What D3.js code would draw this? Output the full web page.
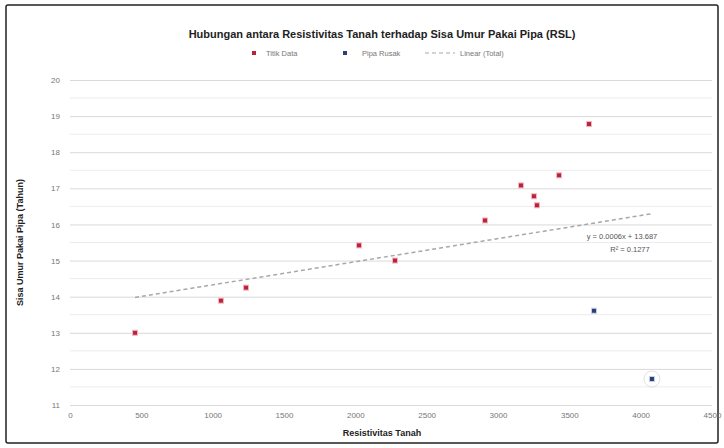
<!DOCTYPE html>
<html>
<head>
<meta charset="utf-8">
<script src="https://cdn.jsdelivr.net/npm/d3@7"></script>
<style>
  html, body { margin: 0; padding: 0; background: #fff; }
  svg { display: block; font-family: "Liberation Sans", Arial, sans-serif; }
</style>
</head>
<body>
<svg id="chart" width="724" height="448"></svg>
<script>
// Soil resistivity vs remaining service life (RSL) of pipes
const resistivityNormal = [456, 1058, 1234, 2026, 2278, 2909, 3161, 3252, 3273, 3428, 3638];
const rslNormal         = [13.0, 13.89, 14.25, 15.42, 15.0, 16.11, 17.08, 16.78, 16.53, 17.36, 18.78];
const resistivityOutlier = [3673, 4079];
const rslOutlier         = [13.61, 11.72];
const xTicks = [0, 500, 1000, 1500, 2000, 2500, 3000, 3500, 4000, 4500];
const yTicks = [11, 12, 13, 14, 15, 16, 17, 18, 19, 20];
const trendSlope = 0.00064;
const trendIntercept = 13.687;
const trendR2 = 0.1277;

const titleText = "Hubungan antara Resistivitas Tanah terhadap Sisa Umur Pakai Pipa (RSL)";
const legendLabels = ["Titik Data", "Pipa Rusak", "Linear (Total)"];

const svg = d3.select("#chart");
const W = 724, H = 448;
const m = { left: 70, right: 12, top: 80, bottom: 43 };

// outer frame
svg.append("rect").attr("x", 6).attr("y", 5).attr("width", W - 12).attr("height", H - 10)
  .attr("fill", "#fff").attr("stroke", "#222").attr("stroke-width", 1.5).attr("rx", 2);

const x = d3.scaleLinear().domain([0, 4500]).range([m.left, W - m.right]);
const y = d3.scaleLinear().domain([11, 20]).range([H - m.bottom, m.top]);

// minor grid
const minor = d3.range(11.5, 20, 1);
svg.append("g").selectAll("line").data(minor).join("line")
  .attr("x1", x(0)).attr("x2", x(4500))
  .attr("y1", d => y(d)).attr("y2", d => y(d))
  .attr("stroke", "#ececec").attr("stroke-width", 1);

// major grid + y axis
const yAxis = d3.axisLeft(y).tickValues(yTicks).tickSize(-(x(4500) - x(0))).tickFormat(d3.format("d"));
const gy = svg.append("g").attr("transform", `translate(${x(0)},0)`).call(yAxis);
gy.select(".domain").remove();
gy.selectAll(".tick line").attr("stroke", "#d9d9d9");
gy.selectAll(".tick text").attr("x", -10).attr("fill", "#777").attr("font-size", 8);

// x axis (labels only)
const xAxis = d3.axisBottom(x).tickValues(xTicks).tickSize(0).tickFormat(d3.format("d"));
const gx = svg.append("g").attr("transform", `translate(0,${y(11)})`).call(xAxis);
gx.select(".domain").remove();
gx.selectAll(".tick text").attr("dy", 10).attr("fill", "#777").attr("font-size", 8);

// trendline from the regression equation
const xMin = d3.min(resistivityNormal.concat(resistivityOutlier));
const xMax = d3.max(resistivityNormal.concat(resistivityOutlier));
const trend = v => trendSlope * v + trendIntercept;
svg.append("line")
  .attr("x1", x(xMin)).attr("y1", y(trend(xMin)))
  .attr("x2", x(xMax)).attr("y2", y(trend(xMax)))
  .attr("stroke", "#a8a8a8").attr("stroke-width", 1.5).attr("stroke-dasharray", "4,3");

// equation label
const eqX = 622, eqY = y(trend(xMax)) + 25;
svg.append("text").attr("x", eqX).attr("y", eqY).attr("text-anchor", "middle")
  .attr("font-size", 7.5).attr("fill", "#555")
  .text(`y = ${trendSlope.toFixed(4)}x + ${trendIntercept.toFixed(3)}`);
svg.append("text").attr("x", eqX + 8).attr("y", eqY + 13).attr("text-anchor", "middle")
  .attr("font-size", 7.5).attr("fill", "#555")
  .text(`R² = ${trendR2.toFixed(4)}`);

// points
const normal = resistivityNormal.map((v, i) => ({ x: v, y: rslNormal[i] }));
const outlier = resistivityOutlier.map((v, i) => ({ x: v, y: rslOutlier[i] }));

svg.append("g").selectAll("rect").data(normal).join("rect")
  .attr("x", d => x(d.x) - 2.5).attr("y", d => y(d.y) - 2.5)
  .attr("width", 5).attr("height", 5)
  .attr("fill", "#b8233a").attr("stroke", "#f4b6c2").attr("stroke-width", 1);

svg.append("g").selectAll("circle.ring").data(outlier.slice(1)).join("circle")
  .attr("cx", d => x(d.x)).attr("cy", d => y(d.y)).attr("r", 8)
  .attr("fill", "none").attr("stroke", "#e2e2e2").attr("stroke-width", 1);

svg.append("g").selectAll("rect").data(outlier).join("rect")
  .attr("x", d => x(d.x) - 2.5).attr("y", d => y(d.y) - 2.5)
  .attr("width", 5).attr("height", 5)
  .attr("fill", "#2b3f73").attr("stroke", "#c5d0ea").attr("stroke-width", 1);

// title
svg.append("text").attr("x", 382).attr("y", 38).attr("text-anchor", "middle")
  .attr("font-size", 11).attr("font-weight", "bold").attr("fill", "#222")
  .text(titleText);

// legend
const lg = svg.append("g").attr("font-size", 7.5).attr("fill", "#777");
lg.append("rect").attr("x", 252).attr("y", 51).attr("width", 4).attr("height", 4).attr("fill", "#b8233a");
lg.append("text").attr("x", 266).attr("y", 56).attr("fill", "#777").text(legendLabels[0]);
lg.append("rect").attr("x", 343).attr("y", 51).attr("width", 4).attr("height", 4).attr("fill", "#2b3f73");
lg.append("text").attr("x", 362).attr("y", 56).attr("fill", "#777").text(legendLabels[1]);
lg.append("line").attr("x1", 425).attr("x2", 455).attr("y1", 53).attr("y2", 53)
  .attr("stroke", "#a8a8a8").attr("stroke-width", 1.2).attr("stroke-dasharray", "4,3");
lg.append("text").attr("x", 460).attr("y", 56).attr("fill", "#777").text(legendLabels[2]);

// axis titles
svg.append("text").attr("x", 382).attr("y", 436).attr("text-anchor", "middle")
  .attr("font-size", 9).attr("font-weight", "bold").attr("fill", "#222")
  .text("Resistivitas Tanah");
svg.append("text").attr("transform", `translate(23,${(m.top + H - m.bottom) / 2}) rotate(-90)`)
  .attr("text-anchor", "middle")
  .attr("font-size", 9).attr("font-weight", "bold").attr("fill", "#222")
  .text("Sisa Umur Pakai Pipa (Tahun)");
</script>
</body>
</html>
